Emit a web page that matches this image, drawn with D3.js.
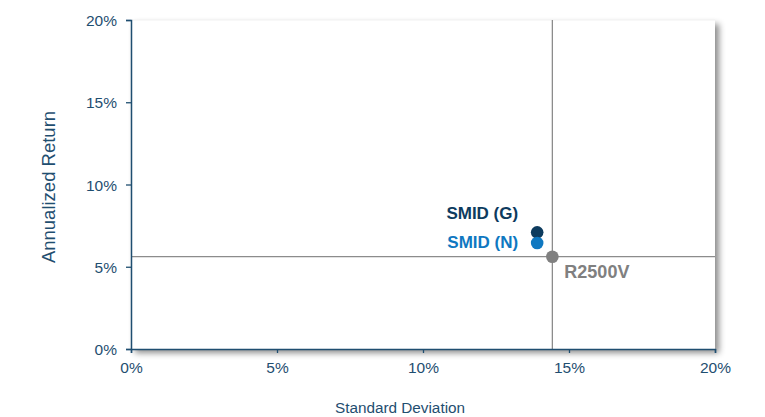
<!DOCTYPE html>
<html>
<head>
<meta charset="utf-8">
<script src="https://cdn.jsdelivr.net/npm/d3@7"></script>
<style>
  body { margin: 0; background: #fff; }
  text { font-family: "Liberation Sans", Arial, sans-serif; }
</style>
</head>
<body>
<svg id="chart" width="765" height="417"></svg>
<script>
// risk / return values (%)
const names = ['SMID (G)', 'SMID (N)', 'R2500V']
const stdDev = [13.91, 13.91, 14.43]
const annReturn = [7.09, 6.44, 5.61]
const colors = ['#0d3b5e', '#0f78c1', '#808080']
const xTicks = [0, 5, 10, 15, 20]
const yTicks = [0, 5, 10, 15, 20]

const points = names.map((n, i) => ({ name: n, x: stdDev[i], y: annReturn[i], color: colors[i] }))
const bench = points[2]

const svg = d3.select('#chart')
const margin = { left: 131, right: 50, top: 20, bottom: 68 }
const w = 765 - margin.left - margin.right
const h = 417 - margin.top - margin.bottom

const xScale = d3.scaleLinear().domain([0, 20]).range([0, w])
const yScale = d3.scaleLinear().domain([0, 20]).range([h, 0])

const defs = svg.append('defs')
const f = defs.append('filter').attr('id', 'shadow')
  .attr('x', '-5%').attr('y', '-5%').attr('width', '115%').attr('height', '120%')
f.append('feDropShadow').attr('dx', 4).attr('dy', 4).attr('stdDeviation', 3)
  .attr('flood-color', '#000').attr('flood-opacity', 0.45)

const g = svg.append('g').attr('transform', `translate(${margin.left},${margin.top})`)

g.append('rect').attr('width', w).attr('height', h)
  .attr('fill', '#fff').attr('filter', 'url(#shadow)')
g.append('line').attr('x1', 0).attr('x2', w).attr('y1', 0).attr('y2', 0)
  .attr('stroke', '#f2f2f2')

// benchmark crosshair
g.append('line')
  .attr('x1', xScale(bench.x)).attr('x2', xScale(bench.x))
  .attr('y1', 0).attr('y2', h)
  .attr('stroke', '#8c8c8c').attr('stroke-width', 1.3)
g.append('line')
  .attr('x1', 0).attr('x2', w)
  .attr('y1', yScale(bench.y)).attr('y2', yScale(bench.y))
  .attr('stroke', '#8c8c8c').attr('stroke-width', 1.3)

const axisColor = '#1f4e70'
const xAxis = d3.axisBottom(xScale).tickValues(xTicks).tickFormat(d => d + '%').tickSize(4).tickSizeOuter(4)
const yAxis = d3.axisLeft(yScale).tickValues(yTicks).tickFormat(d => d + '%').tickSize(5).tickSizeOuter(5)

const gx = g.append('g').attr('transform', `translate(0,${h})`).call(xAxis)
const gy = g.append('g').call(yAxis)
;[gx, gy].forEach(a => {
  a.select('.domain').attr('stroke', axisColor).attr('stroke-width', 1.5)
  a.selectAll('.tick line').attr('stroke', axisColor).attr('stroke-width', 1.3)
  a.selectAll('.tick text').attr('fill', axisColor).style('font-size', '15.5px')
    .style('font-family', '"Liberation Sans", Arial, sans-serif')
})
gx.selectAll('.tick text').attr('dy', '1.1em')
gy.selectAll('.tick text').attr('x', -14).attr('dy', '0.36em')

g.selectAll('circle.pt').data(points).enter()
  .append('circle').attr('class', 'pt')
  .attr('cx', d => xScale(d.x)).attr('cy', d => yScale(d.y))
  .attr('r', 6.3).attr('fill', d => d.color)

const lbl = [
  { dx: -19, dy: -13, anchor: 'end' },
  { dx: -19, dy: 4.5, anchor: 'end' },
  { dx: 12, dy: 21.5, anchor: 'start' }
]
g.selectAll('text.lbl').data(points).enter()
  .append('text').attr('class', 'lbl')
  .attr('x', (d, i) => xScale(d.x) + lbl[i].dx)
  .attr('y', (d, i) => yScale(d.y) + lbl[i].dy)
  .attr('text-anchor', (d, i) => lbl[i].anchor)
  .attr('fill', d => d.color)
  .style('font-size', (d, i) => i === 2 ? '18px' : '17px').style('font-weight', 'bold')
  .text(d => d.name)

svg.append('text')
  .attr('x', 400).attr('y', 413)
  .attr('text-anchor', 'middle').attr('fill', axisColor)
  .style('font-size', '15.3px')
  .text('Standard Deviation')

svg.append('text')
  .attr('transform', `translate(55,187) rotate(-90)`)
  .attr('text-anchor', 'middle').attr('fill', axisColor)
  .style('font-size', '18.5px')
  .text('Annualized Return')
</script>
</body>
</html>
